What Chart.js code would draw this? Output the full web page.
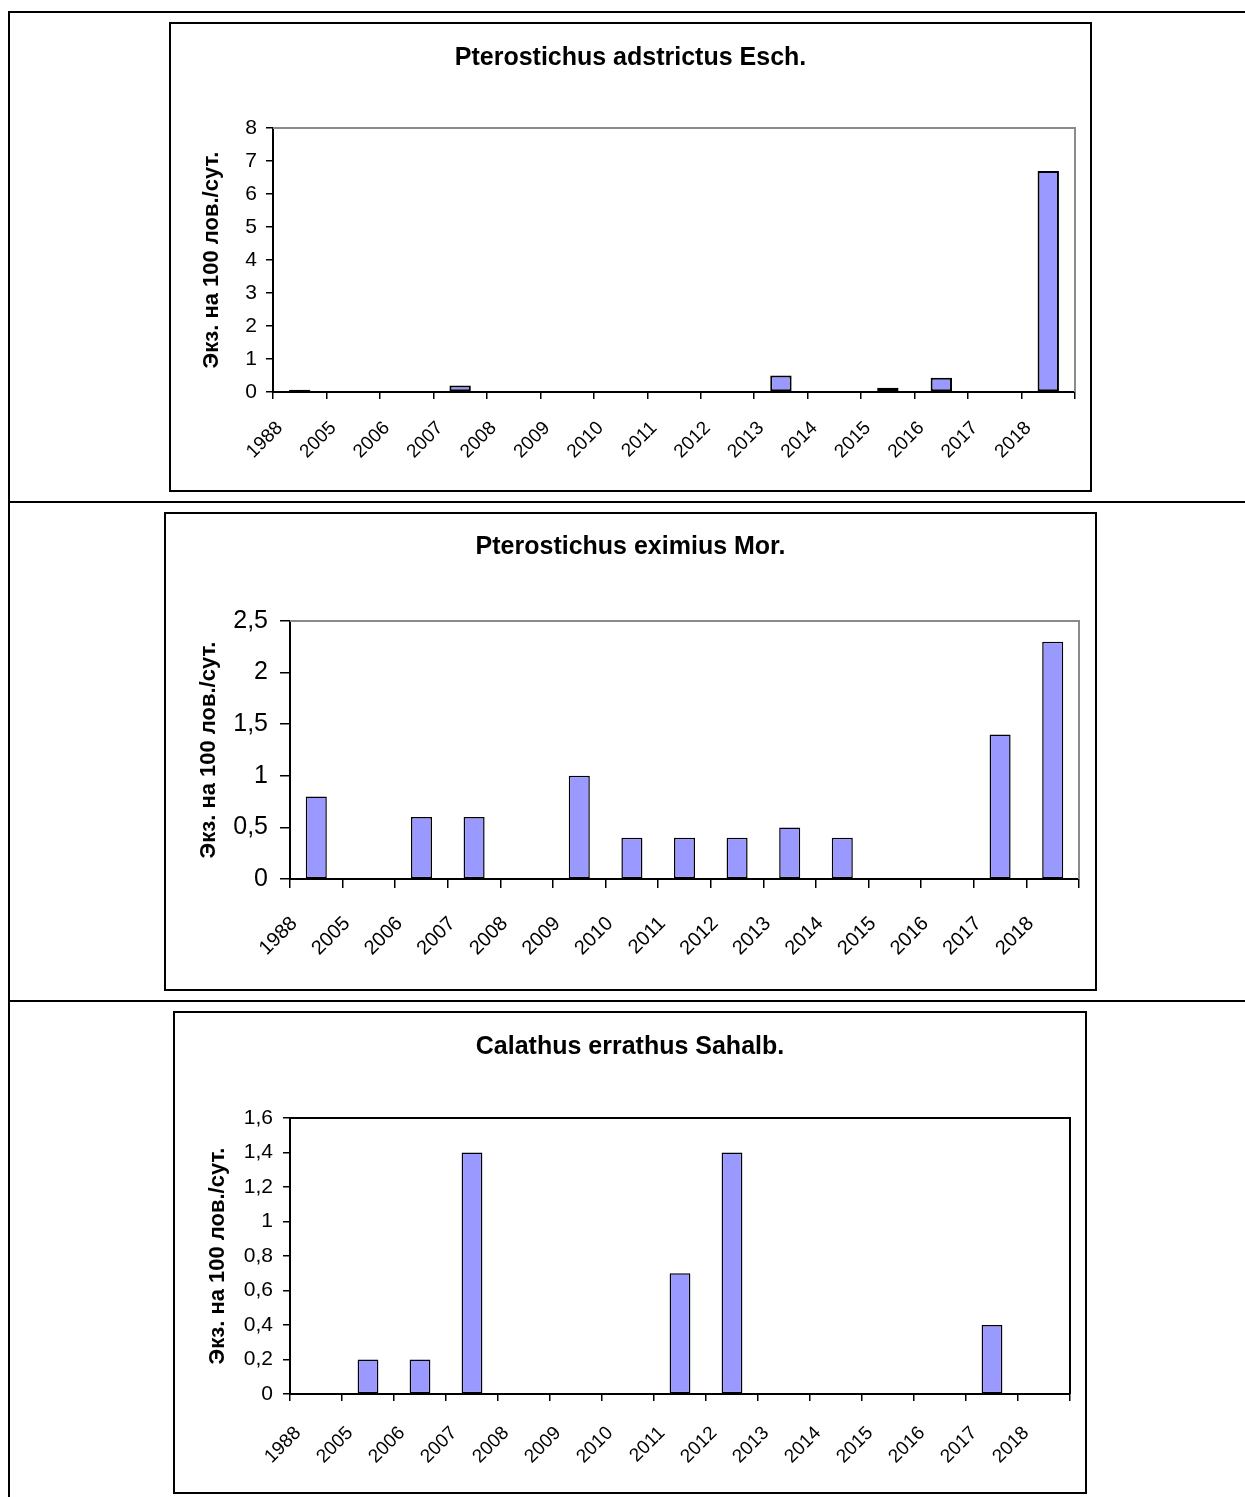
<!DOCTYPE html>
<html>
<head>
<meta charset="utf-8">
<title>Динамика численности жужелиц</title>
<script src="https://cdn.jsdelivr.net/npm/chart.js@4/dist/chart.umd.min.js"></script>
<style>
  html, body { margin: 0; padding: 0; background: #fff; }
  #page { position: relative; width: 1245px; height: 1497px; overflow: hidden; background: #fff; }
  .rule { position: absolute; background: #000; }
  .box { position: absolute; box-sizing: border-box; border: 2px solid #000; background: #fff; }
  .box canvas { display: block; }
</style>
</head>
<body>
<div id="page">
  <!-- table rules -->
  <div class="rule" style="left:8px; top:11px; width:1237px; height:2px;"></div>
  <div class="rule" style="left:8px; top:11px; width:2px; height:1486px;"></div>
  <div class="rule" style="left:8px; top:501px; width:1237px; height:2px;"></div>
  <div class="rule" style="left:8px; top:1000px; width:1237px; height:2px;"></div>

  <div class="box" style="left:169px; top:22px; width:923px; height:470px;">
    <canvas id="c1" width="919" height="466"></canvas>
  </div>
  <div class="box" style="left:164px; top:512px; width:933px; height:479px;">
    <canvas id="c2" width="929" height="475"></canvas>
  </div>
  <div class="box" style="left:173px; top:1011px; width:914px; height:483px;">
    <canvas id="c3" width="910" height="479"></canvas>
  </div>
</div>

<script>
// Years of observation (category axis, shared by all three charts)
const years = ['1988', '2005', '2006', '2007', '2008', '2009', '2010', '2011',
               '2012', '2013', '2014', '2015', '2016', '2017', '2018'];

// Catches, specimens per 100 trap-days
const adstrictus = [0.07, 0, 0, 0.2, 0, 0, 0, 0, 0, 0.5, 0, 0.13, 0.43, 0, 6.7];
const eximius    = [0.8, 0, 0.6, 0.6, 0, 1.0, 0.4, 0.4, 0.4, 0.5, 0.4, 0, 0, 1.4, 2.3];
const errathus   = [0, 0.2, 0.2, 1.4, 0, 0, 0, 0.7, 1.4, 0, 0, 0, 0, 0.4, 0];

// Value-axis ticks for each chart
const ticksAdstrictus = [0, 1, 2, 3, 4, 5, 6, 7, 8];
const ticksEximius    = [0, 0.5, 1, 1.5, 2, 2.5];
const ticksErrathus   = [0, 0.2, 0.4, 0.6, 0.8, 1, 1.2, 1.4, 1.6];

const titles = ['Pterostichus adstrictus Esch.', 'Pterostichus eximius Mor.', 'Calathus errathus Sahalb.'];
const yAxisTitle = 'Экз. на 100 лов./сут.';

const FONT = "Arial, 'Liberation Sans', Helvetica, sans-serif";

// Outline of the plot area on its top and right sides
const plotFrame = {
  id: 'plotFrame',
  afterDraw(chart, args, opts) {
    const { ctx, chartArea: a } = chart;
    ctx.save();
    ctx.strokeStyle = opts.color;
    ctx.lineWidth = opts.width;
    ctx.beginPath();
    ctx.moveTo(a.left, a.top);
    ctx.lineTo(a.right, a.top);
    ctx.lineTo(a.right, a.bottom);
    ctx.stroke();
    ctx.restore();
  }
};

function decimalComma(v) {
  return String(Number(v.toFixed(2))).replace('.', ',');
}

function makeChart(id, title, values, yTicks, g) {
  new Chart(document.getElementById(id), {
    type: 'bar',
    data: {
      labels: years,
      datasets: [{
        data: values,
        backgroundColor: '#9999ff',
        borderColor: '#000',
        borderWidth: g.barBorder,
        borderSkipped: false,
        categoryPercentage: 1,
        barPercentage: 0.4
      }]
    },
    options: {
      responsive: false,
      devicePixelRatio: 1,
      animation: false,
      layout: { padding: { left: g.pad, top: 0, right: g.pad, bottom: 0 } },
      plugins: {
        legend: { display: false },
        tooltip: { enabled: false },
        title: {
          display: true,
          text: title,
          color: '#000',
          font: { family: FONT, size: g.titleSize, weight: 'bold', lineHeight: 1.2 },
          padding: { top: g.titleTop, bottom: g.titleBottom }
        },
        plotFrame: { color: g.frameColor, width: 2 }
      },
      scales: {
        x: {
          afterFit(s) { s.height = g.xHeight; },
          grid: {
            offset: true,
            drawOnChartArea: false,
            drawTicks: true,
            tickLength: g.xTick,
            color: '#000',
            lineWidth: 1.5
          },
          border: { display: true, color: '#000', width: 2 },
          ticks: {
            autoSkip: false,
            maxRotation: 45,
            minRotation: 45,
            padding: g.xPad,
            labelOffset: g.xLabelOffset,
            color: '#000',
            font: { family: FONT, size: g.xSize }
          }
        },
        y: {
          min: yTicks[0],
          max: yTicks[yTicks.length - 1],
          afterFit(s) { s.width = g.yWidth; },
          afterBuildTicks(s) { s.ticks = yTicks.map(v => ({ value: v })); },
          grid: {
            drawOnChartArea: false,
            drawTicks: true,
            tickLength: g.yTick,
            color: '#000',
            lineWidth: 1.5
          },
          border: { display: true, color: '#000', width: 2 },
          ticks: {
            padding: g.yPad,
            color: '#000',
            font: { family: FONT, size: g.ySize },
            callback: v => decimalComma(v)
          },
          title: {
            display: true,
            text: yAxisTitle,
            color: '#000',
            font: { family: FONT, size: g.yTitleSize, weight: 'bold', lineHeight: 1.2 },
            padding: { top: g.yTitlePad, bottom: 0 }
          }
        }
      }
    },
    plugins: [plotFrame]
  });
}

makeChart('c1', titles[0], adstrictus, ticksAdstrictus, {
  pad: 15, titleSize: 25, titleTop: 19, titleBottom: 55,
  xHeight: 98, xTick: 7, xPad: 18, xLabelOffset: -20, xSize: 19,
  yWidth: 87, yTick: 7, yPad: 9, ySize: 21, yTitleSize: 22, yTitlePad: 13,
  frameColor: '#8a8a8a', barBorder: 2
});

makeChart('c2', titles[1], eximius, ticksEximius, {
  pad: 16, titleSize: 25, titleTop: 18, titleBottom: 59,
  xHeight: 110, xTick: 9, xPad: 24, xLabelOffset: -22, xSize: 20,
  yWidth: 108, yTick: 10, yPad: 12, ySize: 25, yTitleSize: 22, yTitlePad: 14,
  frameColor: '#8a8a8a', barBorder: 1.5
});

makeChart('c3', titles[2], errathus, ticksErrathus, {
  pad: 15, titleSize: 25, titleTop: 19, titleBottom: 56,
  xHeight: 98, xTick: 7, xPad: 21, xLabelOffset: -18, xSize: 19,
  yWidth: 100, yTick: 7, yPad: 10, ySize: 21, yTitleSize: 22, yTitlePad: 15,
  frameColor: '#000', barBorder: 1.5
});
</script>
</body>
</html>
